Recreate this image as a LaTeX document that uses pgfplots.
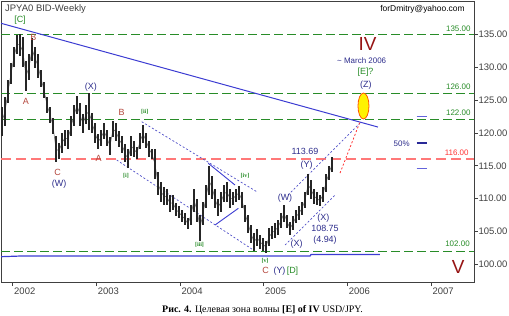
\documentclass[border=0pt]{standalone}
\usepackage{fontspec}
\setmainfont{Liberation Sans}
\newfontfamily\capfont{Liberation Serif}
\usepackage{pgfplots}
\pgfplotsset{compat=1.18}
\usepackage{pgfplotstable}
\usetikzlibrary{shapes.geometric}
\definecolor{lvgreen}{RGB}{40,140,40}
\definecolor{lvred}{RGB}{255,120,120}
\definecolor{tlblue}{RGB}{60,60,210}
\definecolor{dotblue}{RGB}{80,80,200}
\definecolor{navy}{RGB}{45,45,140}
\definecolor{wred}{RGB}{180,70,60}
\definecolor{dred}{RGB}{150,20,20}

\pgfplotstableread{
x lo hi
2001.872 119.5 124.0
2001.908 121.0 125.5
2001.944 124.5 128.0
2001.980 127.5 130.6
2002.015 130.0 133.0
2002.051 132.0 134.9
2002.087 131.7 135.1
2002.123 130.0 134.6
2002.159 126.3 131.0
2002.195 128.0 132.0
2002.231 131.0 134.5
2002.266 129.8 133.0
2002.302 128.4 132.0
2002.338 127.0 129.5
2002.374 125.3 127.8
2002.410 123.0 125.5
2002.446 121.5 124.0
2002.482 119.8 122.3
2002.517 115.6 119.5
2002.553 116.0 118.5
2002.589 117.0 120.0
2002.625 118.0 120.5
2002.661 117.5 120.5
2002.697 119.5 122.5
2002.733 121.0 124.3
2002.769 122.8 125.6
2002.804 121.0 124.5
2002.840 120.0 122.8
2002.876 121.3 124.3
2002.912 120.5 126.0
2002.948 120.0 123.0
2002.984 118.5 121.5
2003.020 117.5 119.8
2003.055 118.0 120.5
2003.091 119.0 121.5
2003.127 118.0 120.5
2003.163 116.6 119.3
2003.199 119.4 121.8
2003.235 118.8 121.5
2003.271 117.8 120.3
2003.306 117.0 119.5
2003.342 115.5 118.3
2003.378 114.6 117.5
2003.414 116.5 119.5
2003.450 116.3 118.8
2003.486 116.0 117.8
2003.522 117.5 120.0
2003.558 118.5 121.2
2003.593 117.7 120.0
2003.629 116.4 118.8
2003.665 116.0 117.5
2003.701 113.0 117.5
2003.737 110.5 114.0
2003.773 109.5 112.5
2003.809 109.0 111.8
2003.844 109.0 111.5
2003.880 108.0 110.5
2003.916 108.3 110.5
2003.952 107.3 109.3
2003.988 107.0 108.8
2004.024 106.5 108.2
2004.060 106.0 107.8
2004.095 105.3 107.0
2004.131 106.0 109.0
2004.167 108.0 111.5
2004.203 106.5 110.0
2004.239 103.6 107.5
2004.275 106.0 109.5
2004.311 108.5 112.0
2004.347 110.5 114.9
2004.382 110.0 113.5
2004.418 108.5 111.5
2004.454 107.3 110.0
2004.490 108.0 111.0
2004.526 109.5 112.0
2004.562 109.5 112.5
2004.598 108.5 111.5
2004.633 109.0 111.0
2004.669 109.5 111.5
2004.705 109.8 111.9
2004.741 108.5 111.0
2004.777 106.5 109.0
2004.813 104.8 107.5
2004.849 103.3 106.0
2004.885 102.0 104.8
2004.920 102.8 105.3
2004.956 102.3 104.5
2004.992 102.0 104.0
2005.028 101.7 103.6
2005.064 102.8 105.5
2005.100 103.8 105.8
2005.136 104.0 106.3
2005.171 104.5 106.8
2005.207 105.5 107.8
2005.243 106.5 109.0
2005.279 105.5 107.5
2005.315 104.4 106.5
2005.351 105.2 107.3
2005.387 106.3 108.2
2005.422 106.8 108.8
2005.458 107.5 109.5
2005.494 108.5 111.0
2005.530 110.5 113.7
2005.566 110.0 112.8
2005.602 109.2 111.5
2005.638 109.0 111.0
2005.674 108.8 110.5
2005.709 109.5 111.8
2005.745 111.0 113.8
2005.781 112.8 115.0
2005.817 114.0 116.4
}\price

\begin{document}
\begin{tikzpicture}
\path[use as bounding box] (0bp,0bp) rectangle (509bp,316bp);
\begin{axis}[
  at={(1bp,34bp)}, anchor=south west, scale only axis,
  width=473bp, height=281bp,
  xmin=2001.86, xmax=2007.514, ymin=97.31, ymax=140.07,
  axis line style={black!75, line width=0.8bp},
  xtick={2002,2003,2004,2005,2006,2007},
  xticklabels={2002,2003,2004,2005,2006,2007},
  ytick={100,105,110,115,120,125,130,135},
  yticklabels={100.00,105.00,110.00,115.00,120.00,125.00,130.00,135.00},
  ytick pos=right, yticklabel pos=right, xtick pos=bottom,
  tick align=outside, major tick length=4bp,
  tick style={black!75, line width=0.7bp},
  /pgf/number format/assume math mode=true,
  yticklabel style={font=\fontsize{9.5}{10}\selectfont, text=black!75, anchor=west, xshift=-3bp},
  xticklabel style={font=\fontsize{9.5}{10}\selectfont, text=black!75, anchor=north west, xshift=-2bp, yshift=2bp},
  clip=true,
]
% level lines
\addplot[lvgreen, line width=1bp, dash pattern=on 9bp off 4bp] coordinates {(2001.86,135) (2007.514,135)};
\addplot[lvgreen, line width=1bp, dash pattern=on 9bp off 4bp] coordinates {(2001.86,126) (2007.514,126)};
\addplot[lvgreen, line width=1bp, dash pattern=on 9bp off 4bp] coordinates {(2001.86,122) (2007.514,122)};
\addplot[lvgreen, line width=1bp, dash pattern=on 9bp off 4bp] coordinates {(2001.86,102) (2007.514,102)};
\addplot[lvred, line width=1.8bp, dash pattern=on 10bp off 5bp] coordinates {(2001.86,116) (2007.514,116)};
% trend lines
\addplot[tlblue, line width=1bp] coordinates {(2001.860,136.68) (2006.366,120.89)};
\addplot[tlblue, line width=1.2bp] coordinates {(2001.86,101.16) (2002.087,101.26) (2005.554,101.26) (2005.566,101.49) (2006.39,101.49)};
% channel lines
\addplot[dotblue, line width=0.7bp, dash pattern=on 2bp off 2bp] coordinates {(2003.542,121.70) (2004.917,111.05)};
\addplot[dotblue, line width=0.7bp, dash pattern=on 2bp off 2bp] coordinates {(2003.243,115.87) (2004.876,102.18)};
\addplot[tlblue, line width=0.9bp] coordinates {(2004.338,115.37) (2004.657,112.07)};
\addplot[tlblue, line width=0.9bp] coordinates {(2004.418,105.98) (2004.697,108.52)};
\addplot[dotblue, line width=0.7bp, dash pattern=on 2bp off 2bp] coordinates {(2005.291,110.55) (2006.151,121.50)};
\addplot[dotblue, line width=0.7bp, dash pattern=on 2bp off 2bp] coordinates {(2005.255,102.94) (2005.853,110.55)};
\addplot[red!80, line width=0.8bp, dash pattern=on 2bp off 2bp] coordinates {(2005.913,113.89) (2006.151,121.66)};
% price bars
\addplot[black!60, line width=0.5bp, mark=none,
  error bars/.cd, y dir=both, y explicit, error mark=none,
  error bar style={line width=1.2bp, black!85}]
  table[x=x, y expr=(\thisrow{lo}+\thisrow{hi})/2, y error expr=(\thisrow{hi}-\thisrow{lo})/2] {\price};
% right-side small segments
\addplot[tlblue!80, line width=0.8bp] coordinates {(2006.829,122.46) (2006.949,122.46)};
\addplot[navy!90!blue, line width=1.8bp] coordinates {(2006.829,118.41) (2006.949,118.41)};
\addplot[tlblue!80, line width=0.8bp] coordinates {(2006.829,114.61) (2006.949,114.61)};
% target ellipse
\node[ellipse, fill=yellow, draw=orange!70!red, line width=0.8bp, minimum width=11bp, minimum height=26bp, inner sep=0pt] at (axis cs:2006.193,124.09) {};
\end{axis}
% annotations (positions in bp from lower-left)
\begingroup
\fontsize{9}{10}\selectfont
\node[anchor=west, text=black!75, font=\fontsize{9.5}{10}\selectfont] at (2bp,307bp) {JPYA0 BID-Weekly};
\node[text=black, font=\fontsize{8.5}{10}\selectfont] at (422.5bp,306.5bp) {forDmitry@yahoo.com};
\node[text=lvgreen] at (20bp,296bp) {[C]};
\node[text=wred] at (33.3bp,278.5bp) {B};
\node[text=wred] at (25.8bp,215bp) {A};
\node[text=navy] at (90.8bp,229bp) {(X)};
\node[text=wred] at (121.7bp,203.5bp) {B};
\node[text=lvgreen, font=\capfont\bfseries\fontsize{6}{7}\selectfont] at (144.7bp,204bp) {[ii]};
\node[text=wred] at (98.7bp,157.7bp) {A};
\node[text=wred] at (57.5bp,143.5bp) {C};
\node[text=navy] at (59.2bp,131.5bp) {(W)};
\node[text=lvgreen, font=\capfont\bfseries\fontsize{6}{7}\selectfont] at (126bp,140.5bp) {[i]};
\node[text=lvgreen, font=\capfont\bfseries\fontsize{6}{7}\selectfont] at (199.5bp,71bp) {[iii]};
\node[text=lvgreen, font=\capfont\bfseries\fontsize{6}{7}\selectfont] at (245bp,140.5bp) {[iv]};
\node[text=lvgreen, font=\capfont\bfseries\fontsize{6}{7}\selectfont] at (265bp,55.5bp) {[v]};
\node[text=wred] at (265.5bp,45.3bp) {C};
\node[text=navy] at (279.5bp,45.3bp) {(Y)};
\node[text=lvgreen] at (292.5bp,45.3bp) {[D]};
\node[text=navy] at (285bp,117.7bp) {(W)};
\node[text=navy] at (296.7bp,72.3bp) {(X)};
\node[text=navy] at (306.7bp,151bp) {(Y)};
\node[text=navy] at (305bp,164.3bp) {113.69};
\node[text=navy] at (323.3bp,97.7bp) {(X)};
\node[text=navy] at (325bp,87.7bp) {108.75};
\node[text=navy] at (325bp,75.7bp) {(4.94)};
\node[text=dred, font=\fontsize{19}{20}\selectfont] at (367.5bp,272bp) {IV};
\node[text=navy, font=\fontsize{8}{9}\selectfont] at (361.7bp,255.3bp) {\textasciitilde\ March 2006};
\node[text=lvgreen] at (365.5bp,244.3bp) {[E]?};
\node[text=navy] at (365.8bp,230.5bp) {(Z)};
\node[text=dred, font=\fontsize{19}{20}\selectfont] at (458.3bp,49bp) {V};
\node[text=lvgreen, font=\fontsize{8}{9}\selectfont] at (458.3bp,287.7bp) {135.00};
\node[text=lvgreen, font=\fontsize{8}{9}\selectfont] at (458.3bp,229.3bp) {126.00};
\node[text=lvgreen, font=\fontsize{8}{9}\selectfont] at (458.3bp,203.3bp) {122.00};
\node[text=red!80, font=\fontsize{8}{9}\selectfont] at (456.7bp,163.3bp) {116.00};
\node[text=lvgreen, font=\fontsize{8}{9}\selectfont] at (457.5bp,72bp) {102.00};
\node[text=navy, font=\fontsize{8}{9}\selectfont] at (401.7bp,172.7bp) {50\%};
\node[font=\capfont\fontsize{10}{11}\selectfont] at (262.5bp,5.5bp) {{\bfseries Рис. 4.} Целевая зона волны {\bfseries [E] of IV} USD/JPY.};
\endgroup
\end{tikzpicture}
\end{document}
